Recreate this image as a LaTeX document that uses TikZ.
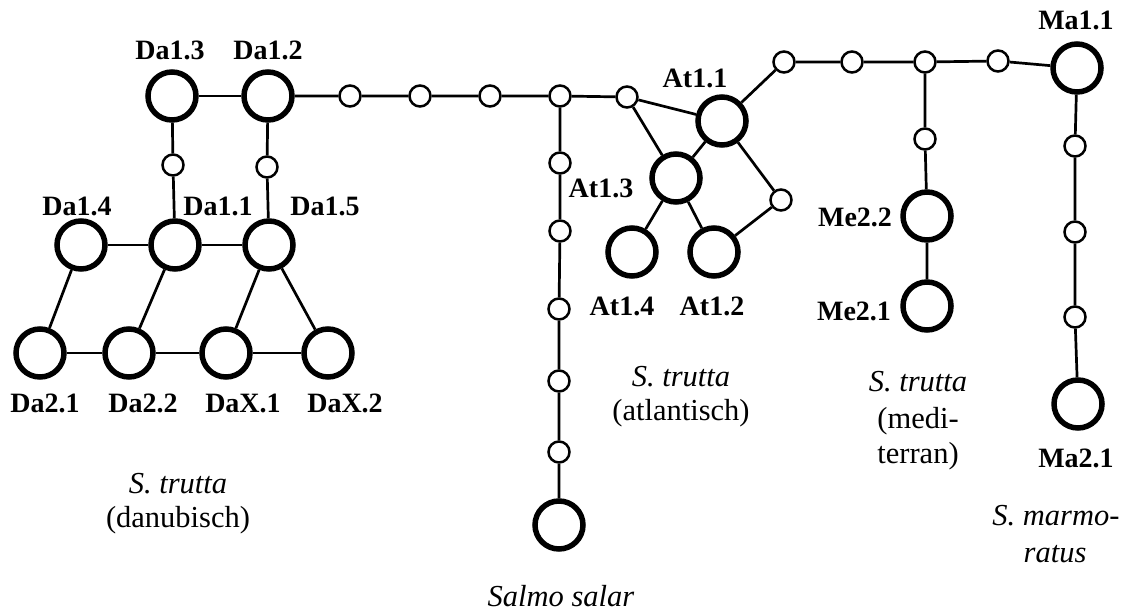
\documentclass[tikz,border=0pt]{standalone}
\usepackage{fontspec}
\setmainfont{Liberation Serif}
\begin{document}
\begin{tikzpicture}[x=1pt,y=-1pt,
  big/.style={circle,draw,line width=5.5pt,minimum size=48pt,inner sep=0pt},
  sml/.style={circle,draw,line width=2.5pt,minimum size=21pt,inner sep=0pt},
  edge/.style={line width=2.7pt},
  lbl/.style={anchor=base,inner sep=0pt,font=\fontsize{28}{32}\selectfont\bfseries},
  txt/.style={anchor=base,inner sep=0pt,font=\fontsize{30.5}{34}\selectfont},
  itx/.style={anchor=base,inner sep=0pt,font=\fontsize{30.5}{34}\selectfont\itshape}]
\useasboundingbox (0,0) rectangle (1123,612);
% big nodes
\node[big] (da13) at (172,96) {};
\node[big] (da12) at (268,96) {};
\node[big] (da14) at (81,245) {};
\node[big] (da11) at (175,245) {};
\node[big] (da15) at (269,245) {};
\node[big] (da21) at (40,353) {};
\node[big] (da22) at (129,353) {};
\node[big] (dax1) at (226,353) {};
\node[big] (dax2) at (328,353) {};
\node[big] (at11) at (722,121) {};
\node[big] (at13) at (676,178) {};
\node[big] (at14) at (632,252) {};
\node[big] (at12) at (714,252) {};
\node[big] (salar) at (559,525) {};
\node[big] (me22) at (927,216) {};
\node[big] (me21) at (927,306) {};
\node[big] (ma11) at (1077,68) {};
\node[big] (ma21) at (1078,404) {};
% small nodes
\node[sml] (s1) at (350,96) {};
\node[sml] (s2) at (420,96) {};
\node[sml] (s3) at (490,96) {};
\node[sml] (s4) at (560,96) {};
\node[sml] (s5) at (627,97) {};
\node[sml] (sv1) at (173,165) {};
\node[sml] (sv2) at (267,167) {};
\node[sml] (v1) at (560,163) {};
\node[sml] (v2) at (560,231) {};
\node[sml] (v3) at (559,309) {};
\node[sml] (v4) at (559,381) {};
\node[sml] (v5) at (559,452) {};
\node[sml] (satr) at (781,200) {};
\node[sml] (t1) at (784,62) {};
\node[sml] (t2) at (852,62) {};
\node[sml] (t3) at (925,62) {};
\node[sml] (t4) at (998,61) {};
\node[sml] (mes) at (925,139) {};
\node[sml] (m1) at (1075,146) {};
\node[sml] (m2) at (1075,232) {};
\node[sml] (m3) at (1075,317) {};
% edges
\draw[edge] (da13) -- (da12);
\draw[edge] (da12) -- (s1) -- (s2) -- (s3) -- (s4) -- (s5);
\draw[edge] (s5) -- (at11);
\draw[edge] (s5) -- (at13);
\draw[edge] (at11) -- (at13);
\draw[edge] (at13) -- (at14);
\draw[edge] (at13) -- (at12);
\draw[edge] (at11) -- (satr) -- (at12);
\draw[edge] (at11) -- (t1) -- (t2) -- (t3) -- (t4) -- (ma11);
\draw[edge] (t3) -- (mes) -- (me22) -- (me21);
\draw[edge] (ma11) -- (m1) -- (m2) -- (m3) -- (ma21);
\draw[edge] (s4) -- (v1) -- (v2) -- (v3) -- (v4) -- (v5) -- (salar);
\draw[edge] (da13) -- (sv1) -- (da11);
\draw[edge] (da12) -- (sv2) -- (da15);
\draw[edge] (da14) -- (da11) -- (da15);
\draw[edge] (da14) -- (da21);
\draw[edge] (da11) -- (da22);
\draw[edge] (da15) -- (dax1);
\draw[edge] (da15) -- (dax2);
\draw[edge] (da21) -- (da22) -- (dax1) -- (dax2);
% labels
\node[lbl] (lda13) at (170,60) {Da1.3};
\node[lbl] (lda12) at (268,60) {Da1.2};
\node[lbl] (lda14) at (77,215) {Da1.4};
\node[lbl] (lda11) at (218,215) {Da1.1};
\node[lbl] (lda15) at (325,215) {Da1.5};
\node[lbl] (lda21) at (45,412) {Da2.1};
\node[lbl] (lda22) at (143,412) {Da2.2};
\node[lbl] (ldax1) at (243,412) {DaX.1};
\node[lbl] (ldax2) at (345,412) {DaX.2};
\node[lbl] (lat11) at (695,88) {At1.1};
\node[lbl] (lat13) at (601,198) {At1.3};
\node[lbl] (lat14) at (622,315) {At1.4};
\node[lbl] (lat12) at (712,315) {At1.2};
\node[lbl] (lme22) at (855,227) {Me2.2};
\node[lbl] (lme21) at (854,320) {Me2.1};
\node[lbl] (lma11) at (1076,30) {Ma1.1};
\node[lbl] (lma21) at (1076,467) {Ma2.1};
% group texts
\node[itx] (gda1) at (178,493) {S. trutta};
\node[txt] (gda2) at (178,527) {(danubisch)};
\node[itx] (gat1) at (681,386) {S. trutta};
\node[txt] (gat2) at (681,420) {(atlantisch)};
\node[itx] (gme1) at (918,391) {S. trutta};
\node[txt] (gme2) at (918,428) {(medi-};
\node[txt] (gme3) at (918,463) {terran)};
\node[itx] (gma1) at (1056,525) {S. marmo-};
\node[itx] (gma2) at (1055,562) {ratus};
\node[itx] (gsa) at (561,606) {Salmo salar};
\end{tikzpicture}
\end{document}
